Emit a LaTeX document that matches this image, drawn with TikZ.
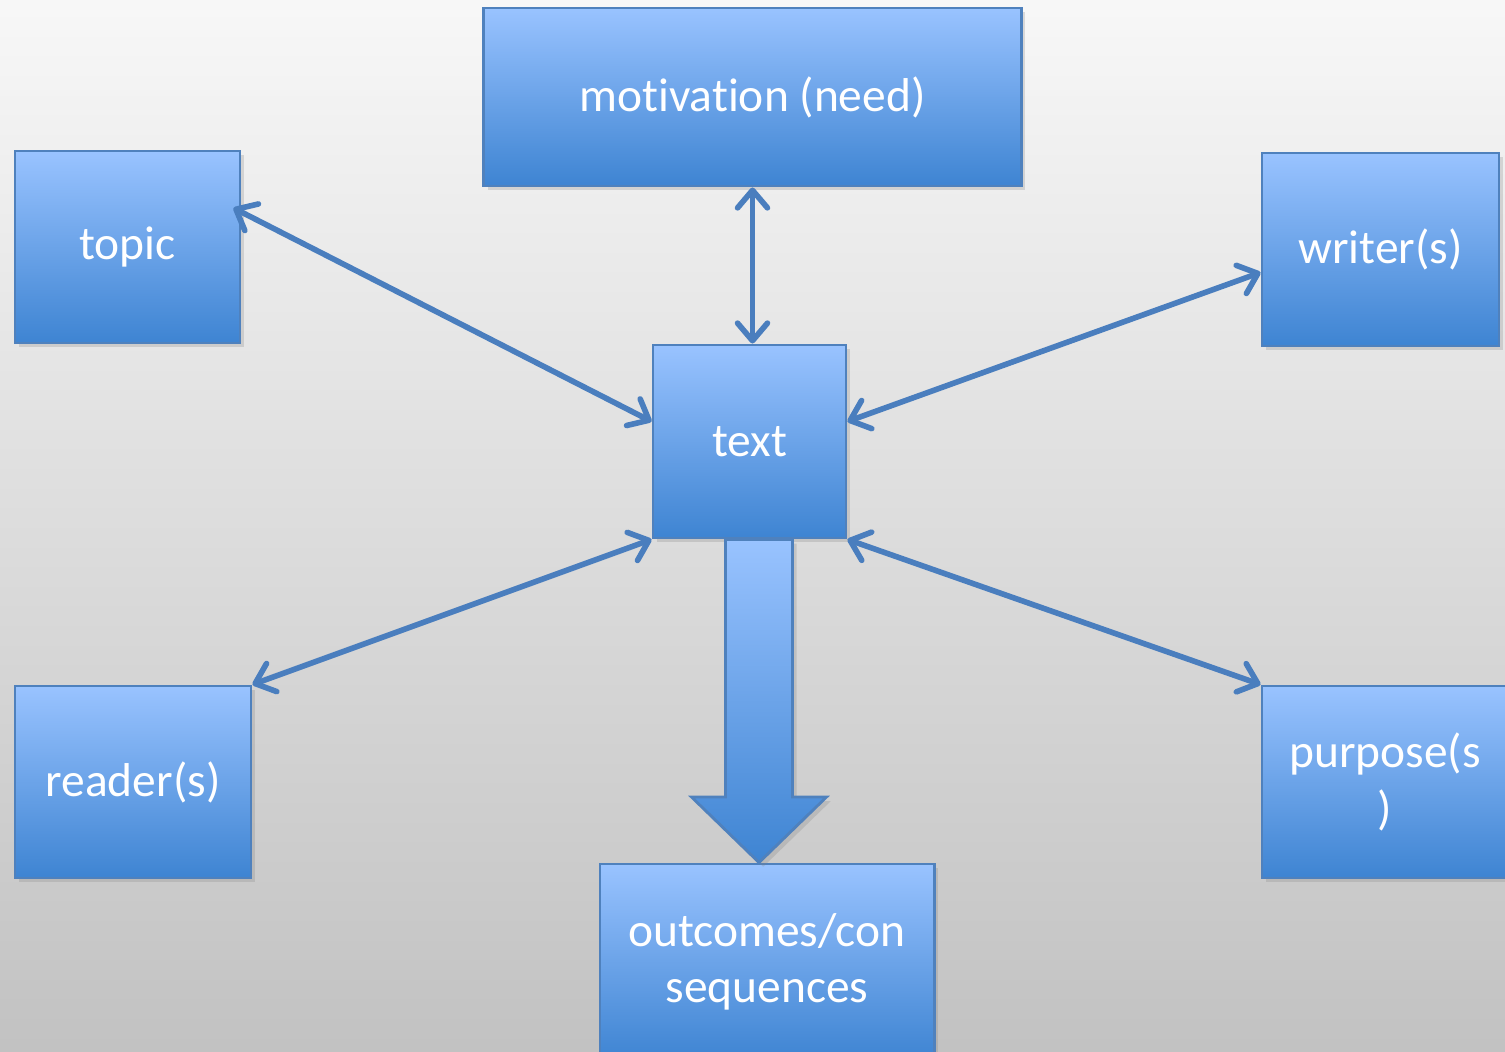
\documentclass[tikz,border=0pt]{standalone}
\usepackage{fontspec}
\setmainfont{Carlito}[Ligatures=NoCommon]
\usetikzlibrary{arrows.meta,calc,shadows}

\definecolor{boxtop}{RGB}{153,195,255}
\definecolor{boxbot}{RGB}{62,132,210}
\definecolor{boxline}{RGB}{79,129,189}
\definecolor{linkcol}{RGB}{74,126,190}

\begin{document}
\begin{tikzpicture} [
    x=0.01cm, y=-0.01cm,
    box/.style  = { rectangle, draw=boxline, line width=0.8pt,
                    top color=boxtop, bottom color=boxbot,
                    text=white, align=center, inner sep=0pt,
                    font=\fontsize{13.5}{16}\selectfont,
                    drop shadow={opacity=0.25, shadow xshift=1.2pt, shadow yshift=-1.2pt} },
    link/.style = { draw=linkcol, line width=1.6pt, line cap=round,
                    {Straight Barb[length=5pt, width=8.5pt, line cap=round, line join=round]}-%
                    {Straight Barb[length=5pt, width=8.5pt, line cap=round, line join=round]} },
  ]
  % background
  \shade [top color=white!97!black, bottom color=black!24] (0,0) rectangle (1505,1052);
  \useasboundingbox (0,0) rectangle (1505,1052);

  % nodes
  \node (motivation) [box, minimum width=5.37cm, minimum height=1.78cm] at (752.5,97) {motivation (need)};
  \node (topic)      [box, minimum width=2.25cm, minimum height=1.92cm] at (127.5,247) {topic};
  \node (writer)     [box, minimum width=2.37cm, minimum height=1.93cm] at (1380.5,249.5) {writer(s)};
  \node (text)       [box, minimum width=1.93cm, minimum height=1.93cm] at (749.5,441.5) {text};
  \node (reader)     [box, minimum width=2.36cm, minimum height=1.92cm] at (133,782) {reader(s)};
  \node (purpose)    [box, minimum width=2.46cm, minimum height=1.92cm] at (1385,782) {purpose(s\\)};
  \node (outcomes)   [box, minimum width=3.34cm, minimum height=1.96cm] at (767,962) {outcomes/con\\sequences};

  % big arrow text -> outcomes
  \coordinate (flow) at ($(text.south)+(9.5,0)$);
  \path [draw=boxline, line width=0.8pt, top color=boxtop, bottom color=boxbot,
         drop shadow={opacity=0.25, shadow xshift=1.2pt, shadow yshift=-1.2pt}]
    ($(flow)+(-33.5,0)$) -- ($(flow)+(33.5,0)$)
    -- ($(flow |- 0,797)+(33.5,0)$) -- ($(flow |- 0,797)+(67.5,0)$)
    -- (flow |- outcomes.north)
    -- ($(flow |- 0,797)+(-67.5,0)$) -- ($(flow |- 0,797)+(-33.5,0)$) -- cycle;

  % connect nodes
  \begin{scope}[every path/.style=link]
  \path (motivation.south) -- (motivation.south |- text.north);
  \path ($(topic.east)+(-8,-39)$) -- ($(text.west)+(0,-20)$);
  \path ($(writer.west)+(0,23)$) -- ($(text.east)+(0,-20)$);
  \path (reader.north east) -- (text.south west);
  \path (purpose.north west) -- (text.south east);
  \end{scope}

\end{tikzpicture}
\end{document}
